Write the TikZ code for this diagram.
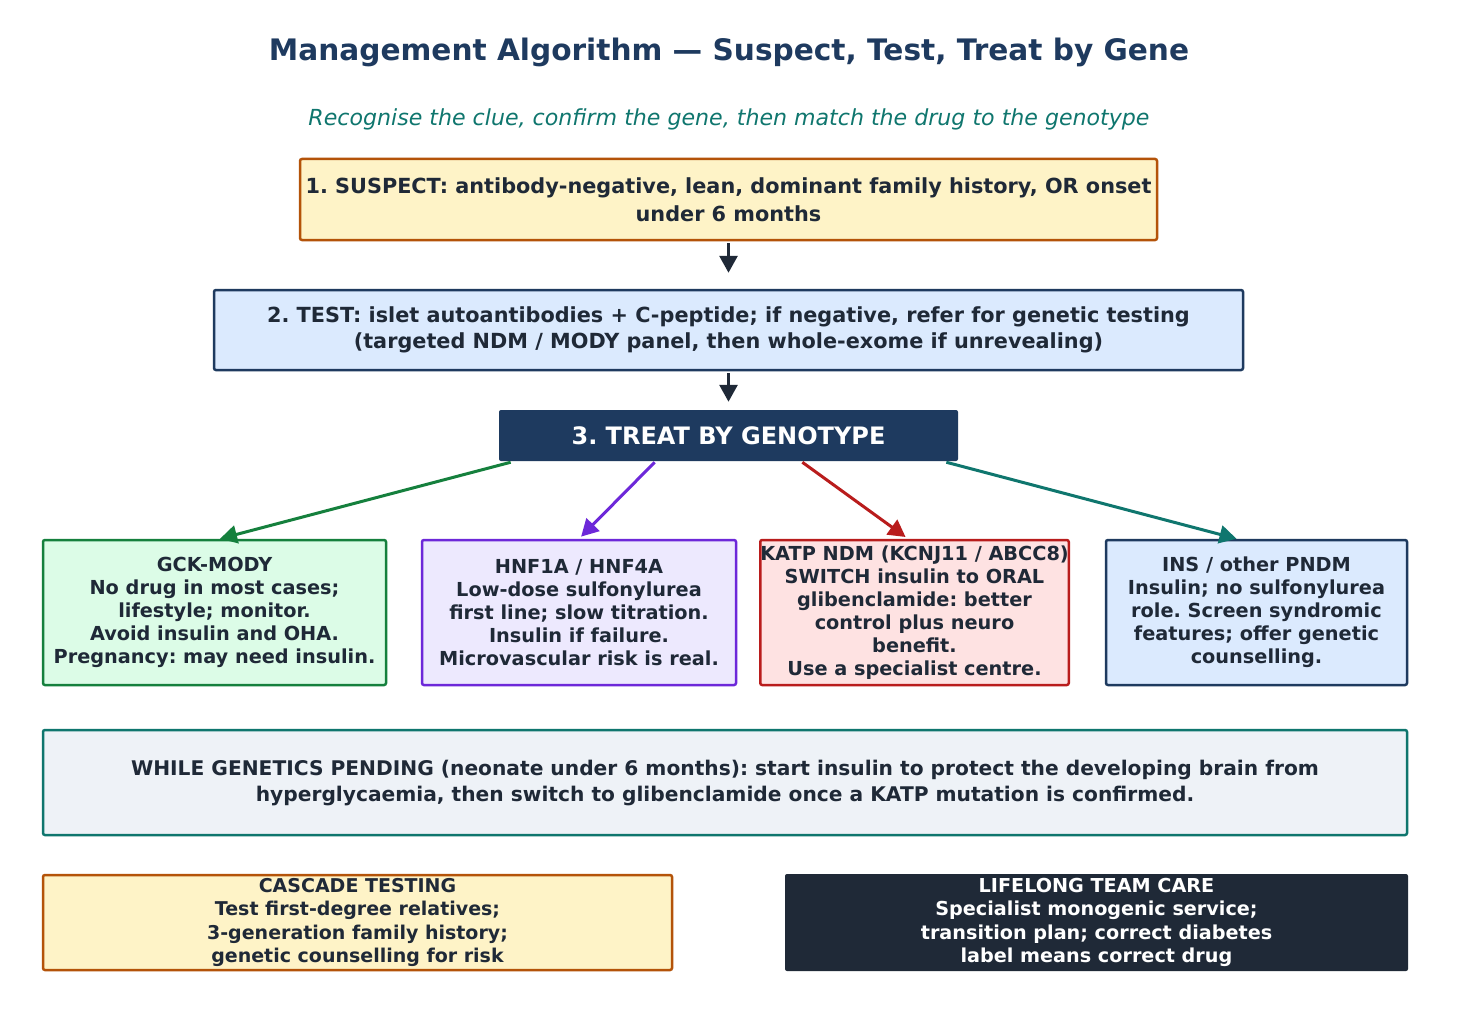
\documentclass[tikz,border=0pt]{standalone}
\usepackage{fontspec}
\setmainfont{DejaVu Sans}
\usetikzlibrary{arrows.meta,calc}
\frenchspacing

\definecolor{navy}{HTML}{1E3A5F}
\definecolor{ink}{HTML}{1F2937}
\definecolor{teal}{HTML}{0F766E}
\definecolor{sandfill}{HTML}{FEF3C7}
\definecolor{sandline}{HTML}{B45309}
\definecolor{bluefill}{HTML}{DBEAFE}
\definecolor{greenfill}{HTML}{DCFCE7}
\definecolor{greenline}{HTML}{15803D}
\definecolor{violetfill}{HTML}{EDE9FE}
\definecolor{violetline}{HTML}{6D28D9}
\definecolor{redfill}{HTML}{FEE2E2}
\definecolor{redline}{HTML}{B91C1C}
\definecolor{greyfill}{HTML}{EEF2F7}

\begin{document}
\begin{tikzpicture}[x=1pt, y=-1pt,
  box/.style={draw, line width=2.5pt, rounded corners=2pt, align=center, text=ink,
    inner sep=0pt, font=\fontsize{19.3}{23}\selectfont\bfseries},
  genebox/.style={box, minimum height=145},
  flow/.style={-{Triangle[length=17pt, width=18pt]}, line width=3pt}]
  \useasboundingbox[fill=white] (0,0) rectangle (1457,1030);

  \node[font=\fontsize{29.6}{36}\selectfont\bfseries, text=navy] (title) at (729,52)
    {Management Algorithm — Suspect, Test, Treat by Gene};
  \node[font=\fontsize{22.1}{26}\selectfont\itshape, text=teal] (subtitle) at (729,119)
    {Recognise the clue, confirm the gene, then match the drug to the genotype};

  \node[box, fill=sandfill, draw=sandline, minimum width=857, minimum height=81,
    font=\fontsize{20.8}{28}\selectfont\bfseries] (suspect) at (728.5,199.5)
    {1. SUSPECT: antibody-negative, lean, dominant family history, OR onset\\under 6 months};
  \node[box, fill=bluefill, draw=navy, minimum width=1029, minimum height=80,
    font=\fontsize{20.8}{26}\selectfont\bfseries] (test) at (728.5,330)
    {2. TEST: islet autoantibodies + C-peptide; if negative, refer for genetic testing\\(targeted NDM / MODY panel, then whole-exome if unrevealing)};
  \node[box, fill=navy, draw=none, text=white, minimum width=459, minimum height=51,
    font=\fontsize{24}{28}\selectfont\bfseries] (treat) at (728.5,435.5)
    {3. TREAT BY GENOTYPE};

  \node[genebox, fill=greenfill, draw=greenline, minimum width=343] (gck) at (214.5,612.5)
    {GCK-MODY\\No drug in most cases;\\lifestyle; monitor.\\Avoid insulin and OHA.\\Pregnancy: may need insulin.};
  \node[genebox, fill=violetfill, draw=violetline, minimum width=314] (hnf) at (579,612.5)
    {HNF1A / HNF4A\\Low-dose sulfonylurea\\first line; slow titration.\\Insulin if failure.\\Microvascular risk is real.};
  \node[genebox, fill=redfill, draw=redline, minimum width=301] (katp) at (914.5,612.5)
    {KATP NDM (KCNJ11 / ABCC8)\\SWITCH insulin to ORAL\\glibenclamide: better\\control plus neuro\\benefit.\\Use a specialist centre.};
  \node[genebox, fill=bluefill, draw=navy, minimum width=301] (ins) at (1256.5,612.5)
    {INS / other PNDM\\Insulin; no sulfonylurea\\role. Screen syndromic\\features; offer genetic\\counselling.};

  \node[box, fill=greyfill, draw=teal, minimum width=1364, minimum height=105,
    font=\fontsize{20.2}{26}\selectfont\bfseries] (pending) at (725,782.5)
    {WHILE GENETICS PENDING (neonate under 6 months): start insulin to protect the developing brain from\\hyperglycaemia, then switch to glibenclamide once a KATP mutation is confirmed.};
  \node[box, fill=sandfill, draw=sandline, minimum width=629, minimum height=95,
    font=\fontsize{19}{23.5}\selectfont\bfseries] (cascade) at (357.5,922.5)
    {CASCADE TESTING\\Test first-degree relatives;\\3-generation family history;\\genetic counselling for risk};
  \node[box, fill=ink, draw=none, text=white, minimum width=623, minimum height=97,
    font=\fontsize{19.2}{23.5}\selectfont\bfseries] (lifelong) at (1096.5,922.5)
    {LIFELONG TEAM CARE\\Specialist monogenic service;\\transition plan; correct diabetes\\label means correct drug};

  % flow down the middle
  \draw[flow, ink, shorten <=2pt, shorten >=16pt] (suspect.south) -- (test.north);
  \draw[flow, ink, shorten <=2pt, shorten >=7pt] (test.south) -- (treat.north);

  % one arrow per gene group
  \draw[flow, greenline] ($(treat.south west)!0.028!(treat.south east)$) -- ([xshift=5.5pt]gck.north);
  \draw[flow, violetline, shorten >=3pt] ($(treat.south west)!0.34!(treat.south east)$) -- (hnf.north);
  \draw[flow, redline, shorten >=3pt] ($(treat.south west)!0.66!(treat.south east)$) -- ([xshift=-6.5pt]katp.north);
  \draw[flow, teal] ($(treat.south west)!0.972!(treat.south east)$) -- ([xshift=-20pt]ins.north);
\end{tikzpicture}
\end{document}
